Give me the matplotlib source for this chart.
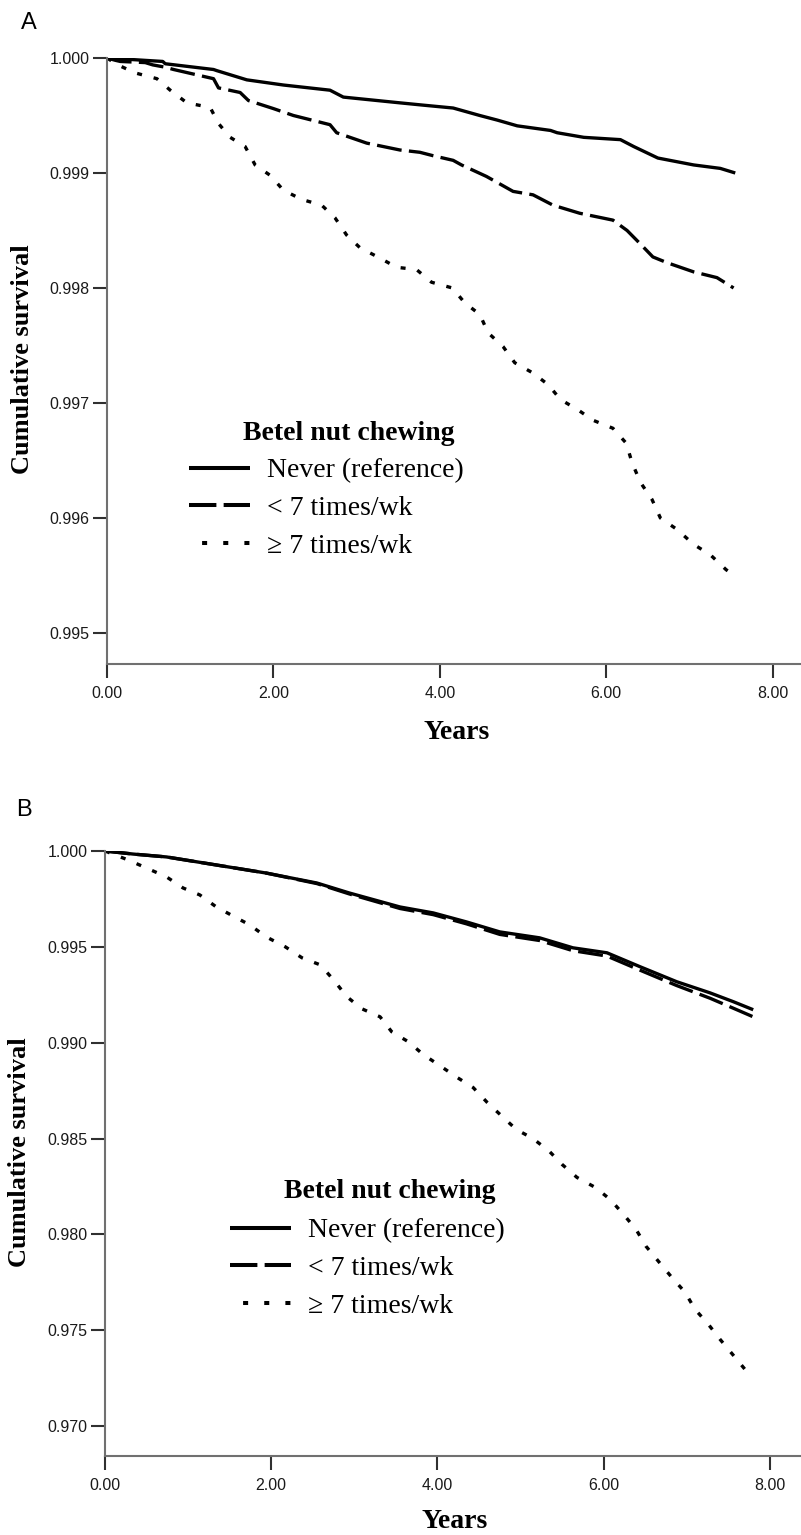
import matplotlib
matplotlib.use("Agg")
import matplotlib.pyplot as plt
from matplotlib.lines import Line2D

# ---------------- data ----------------
a_never_t = [0, 0.67, 0.7, 1.28, 1.32, 1.68, 2.12, 2.68, 2.84, 3.52, 3.8, 4.16, 4.48, 4.69,
             4.93, 5.33, 5.41, 5.73, 6.17, 6.33, 6.62, 7.05, 7.37, 7.55]
a_never_s = [1.0, 0.99997, 0.99995, 0.9999, 0.99989, 0.99981, 0.999765, 0.99972, 0.99966,
             0.99961, 0.99959, 0.999565, 0.9995, 0.99946, 0.99941, 0.99937, 0.99935, 0.99931,
             0.99929, 0.99923, 0.99913, 0.99907, 0.99904, 0.999]

a_lt7_t = [0, 0.1, 0.16, 0.46, 0.55, 0.7, 0.8, 1.28, 1.34, 1.6, 1.7, 2.0, 2.24, 2.68, 2.76,
           3.12, 3.52, 3.76, 3.92, 4.16, 4.26, 4.56, 4.88, 5.12, 5.36, 5.68, 6.08, 6.25, 6.4,
           6.56, 6.73, 7.05, 7.33, 7.53]
a_lt7_s = [1.0, 0.99998, 0.99997, 0.99996, 0.99994, 0.99992, 0.9999, 0.99982, 0.99974, 0.9997,
           0.99963, 0.99956, 0.9995, 0.99942, 0.99935, 0.99926, 0.9992, 0.99918, 0.99915,
           0.99911, 0.99907, 0.99897, 0.99884, 0.99881, 0.99872, 0.99865, 0.99859, 0.9985,
           0.99839, 0.99827, 0.99822, 0.99814, 0.99809, 0.998]

a_ge7_t = [0, 0.13, 0.34, 0.6, 0.76, 0.96, 1.24, 1.34, 1.48, 1.66, 1.78, 1.96, 2.12, 2.34,
           2.58, 2.74, 2.88, 3.04, 3.28, 3.48, 3.72, 3.9, 4.15, 4.3, 4.48, 4.58, 4.76, 4.9,
           5.12, 5.3, 5.45, 5.66, 5.84, 6.08, 6.24, 6.31, 6.41, 6.55, 6.65, 6.85, 7.05, 7.25,
           7.44, 7.5]
a_ge7_s = [1.0, 0.99994, 0.99987, 0.99982, 0.99972, 0.99961, 0.99957, 0.99943, 0.99931,
           0.99923, 0.99907, 0.99898, 0.99885, 0.99877, 0.99872, 0.99861, 0.99846, 0.99835,
           0.99826, 0.99818, 0.99816, 0.99805, 0.998, 0.99787, 0.99777, 0.99761, 0.99749,
           0.99735, 0.99726, 0.99716, 0.99703, 0.99694, 0.99685, 0.99678, 0.99665, 0.99648,
           0.99631, 0.99616, 0.996, 0.9959, 0.99577, 0.99568, 0.99555, 0.99552]

b_never_t = [0, 0.34, 0.74, 1.34, 1.94, 2.55, 2.94, 3.55, 3.95, 4.35, 4.75, 5.23, 5.63, 6.04,
             6.44, 6.88, 7.28, 7.56, 7.8]
b_never_s = [1.0, 0.99984, 0.99969, 0.99927, 0.99885, 0.99833, 0.99781, 0.99708, 0.99677,
             0.9963, 0.99578, 0.99547, 0.99495, 0.99469, 0.99396, 0.99318, 0.9926, 0.99214,
             0.99172]

b_lt7_t = [0, 0.34, 0.74, 1.34, 1.94, 2.55, 2.94, 3.55, 3.95, 4.35, 4.75, 5.23, 5.63, 6.04,
           6.44, 6.88, 7.28, 7.56, 7.8]
b_lt7_s = [1.0, 0.99984, 0.99969, 0.99927, 0.99885, 0.9983, 0.99776, 0.997, 0.99668, 0.9962,
           0.99565, 0.99533, 0.9948, 0.99452, 0.99378, 0.99298, 0.99232, 0.9918, 0.99135]

b_ge7_t = [0, 0.28, 0.5, 0.74, 0.94, 1.14, 1.34, 1.54, 1.74, 1.94, 2.17, 2.37, 2.59, 2.75,
           2.91, 3.09, 3.31, 3.45, 3.65, 3.83, 4.03, 4.24, 4.43, 4.6, 4.78, 4.95, 5.15, 5.35,
           5.5, 5.68, 5.9, 6.08, 6.24, 6.39, 6.51, 6.67, 6.82, 6.98, 7.1, 7.26, 7.4, 7.55, 7.72]
b_ge7_s = [1.0, 0.99953, 0.99911, 0.99865, 0.99807, 0.99771, 0.99708, 0.99661, 0.99615,
           0.99552, 0.995, 0.99443, 0.99406, 0.99328, 0.9924, 0.99177, 0.99135, 0.99057,
           0.99005, 0.98938, 0.9888, 0.98818, 0.98766, 0.98688, 0.98615, 0.98547, 0.985,
           0.98432, 0.98365, 0.98297, 0.98245, 0.98182, 0.98104, 0.98026, 0.97938, 0.97854,
           0.97776, 0.97698, 0.97609, 0.97531, 0.97453, 0.97375, 0.97286]

series_labels = ["Never (reference)", "< 7 times/wk", "\u2265 7 times/wk"]
legend_title = "Betel nut chewing"
x_ticks = [0, 2, 4, 6, 8]
x_ticklabels = ["0.00", "2.00", "4.00", "6.00", "8.00"]
a_y_ticks = [0.995, 0.996, 0.997, 0.998, 0.999, 1.000]
b_y_ticks = [0.970, 0.975, 0.980, 0.985, 0.990, 0.995, 1.000]

# ---------------- figure ----------------
W, H = 801, 1535
DPI = 100
fig = plt.figure(figsize=(W / DPI, H / DPI), dpi=DPI)
fig.patch.set_facecolor("white")

SERIF = ["Liberation Serif", "DejaVu Serif"]
SANS = ["Liberation Sans", "DejaVu Sans"]

LW = 2.4
styles = [
    dict(linestyle="-"),
    dict(linestyle=(0, (7.5, 2.2))),
    dict(linestyle=(0, (1.5, 3.6))),
]
legend_styles = [
    dict(linestyle="-"),
    dict(linestyle=(0, (6.8, 1.8))),
    dict(linestyle=(2.0, (1.25, 4.0))),
]


def px_axes(left, top, right, bottom):
    return fig.add_axes([left / W, 1 - bottom / H, (right - left) / W, (bottom - top) / H])


def setup(ax, ylim, xlim, yticks):
    ax.set_xlim(*xlim)
    ax.set_ylim(*ylim)
    for s in ["top", "right"]:
        ax.spines[s].set_visible(False)
    for s in ["left", "bottom"]:
        ax.spines[s].set_color("#707070")
        ax.spines[s].set_linewidth(1.5)
    ax.set_xticks(x_ticks)
    ax.set_xticklabels(x_ticklabels)
    ax.set_yticks(yticks)
    ax.set_yticklabels([f"{v:.3f}" for v in yticks])
    ax.tick_params(axis="both", direction="out", length=10, width=1.5, color="#303030",
                   labelsize=11.5, labelcolor="#1a1a1a")
    ax.tick_params(axis="x", pad=5.5)
    ax.tick_params(axis="y", pad=2.5)
    for lab in ax.get_xticklabels() + ax.get_yticklabels():
        lab.set_family(SANS)


def draw_legend(ax, x0, y0):
    handles = []
    for st in legend_styles:
        handles.append(Line2D([], [], color="black", lw=2.9, solid_capstyle="butt",
                              dash_capstyle="butt", **st))
    leg = ax.legend(handles, series_labels, loc="upper left",
                    bbox_to_anchor=(x0 / W, 1 - y0 / H), bbox_transform=fig.transFigure,
                    frameon=False, borderpad=0, borderaxespad=0, handlelength=2.2,
                    handletextpad=0.6, labelspacing=0.44,
                    prop=dict(family=SERIF, size=20))
    return leg


def curves(ax, data):
    for (t, s), st in zip(data, styles):
        ax.plot(t, s, color="black", lw=LW, solid_capstyle="butt", dash_capstyle="butt",
                solid_joinstyle="round", **st)


# ---------------- panel A ----------------
axA = px_axes(107, 58, 801, 664)
setup(axA, (0.99473, 1.000), (0, 8.34), a_y_ticks)
curves(axA, [(a_never_t, a_never_s), (a_lt7_t, a_lt7_s), (a_ge7_t, a_ge7_s)])
draw_legend(axA, 189, 458)
fig.text(243 / W, 1 - 433 / H, legend_title, family=SERIF, fontsize=20, fontweight="bold",
         ha="left", va="center")
fig.text(23 / W, 1 - 359 / H, "Cumulative survival", family=SERIF, fontsize=19,
         fontweight="bold", rotation=90, ha="center", va="center")
fig.text(457 / W, 1 - 732 / H, "Years", family=SERIF, fontsize=20, fontweight="bold",
         ha="center", va="center")
fig.text(29 / W, 1 - 23 / H, "A", family=SANS, fontsize=17, ha="center", va="center")

# ---------------- panel B ----------------
axB = px_axes(105, 851, 801, 1456)
setup(axB, (0.96844, 1.000), (0, 8.375), b_y_ticks)
curves(axB, [(b_never_t, b_never_s), (b_lt7_t, b_lt7_s), (b_ge7_t, b_ge7_s)])
draw_legend(axB, 230, 1218)
fig.text(284 / W, 1 - 1192 / H, legend_title, family=SERIF, fontsize=20, fontweight="bold",
         ha="left", va="center")
fig.text(20 / W, 1 - 1152 / H, "Cumulative survival", family=SERIF, fontsize=19,
         fontweight="bold", rotation=90, ha="center", va="center")
fig.text(455 / W, 1 - 1522 / H, "Years", family=SERIF, fontsize=20, fontweight="bold",
         ha="center", va="center")
fig.text(24 / W, 1 - 810 / H, "B", family=SANS, fontsize=17, ha="center", va="center")

fig.savefig("out.png", dpi=DPI, facecolor="white")
